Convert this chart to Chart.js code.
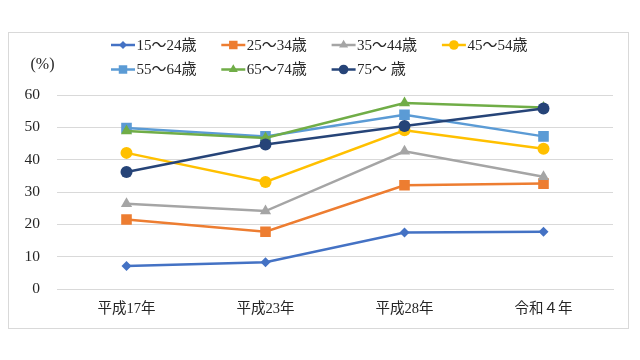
<!DOCTYPE html>
<html>
<head>
  <title>Age group rates</title>
  <script src="https://cdn.jsdelivr.net/npm/chart.js"></script>
  <style>
    body { margin: 0; background: #fff; }
    #wrap { position: relative; width: 640px; height: 360px; }
  </style>
</head>
<body>
<div id="wrap">
  <canvas id="ageChart" width="640" height="360"></canvas>
</div>

<script>
  // values
  const years = ['平成17年', '平成23年', '平成28年', '令和４年'];
  const groupNames = ['15～24歳', '25～34歳', '35～44歳', '45～54歳', '55～64歳', '65～74歳', '75～ 歳'];
  const age15to24 = [7.1, 8.3, 17.5, 17.7];
  const age25to34 = [21.5, 17.7, 32.1, 32.6];
  const age35to44 = [26.4, 24.1, 42.6, 34.7];
  const age45to54 = [42.1, 33.1, 49.1, 43.4];
  const age55to64 = [49.8, 47.2, 53.9, 47.2];
  const age65to74 = [48.9, 46.7, 57.5, 56.1];
  const age75plus = [36.2, 44.7, 50.4, 55.8];
  const yTicks = [0, 10, 20, 30, 40, 50, 60];

  const seriesValues = [age15to24, age25to34, age35to44, age45to54, age55to64, age65to74, age75plus];
  const colors = ['#4472C4', '#ED7D31', '#A5A5A5', '#FFC000', '#5B9BD5', '#70AD47', '#264478'];
  const markers = ['rectRot', 'rect', 'triangle', 'circle', 'rect', 'triangle', 'circle'];
  const radii = [5, 7.5, 6.5, 6, 7.5, 6.5, 6];

  const fontFamily = '"Liberation Serif", "Noto Sans CJK JP", serif';

  // later series sit on top, as in the original
  const datasets = seriesValues.map((vals, i) => ({
    label: groupNames[i],
    data: vals,
    order: seriesValues.length - i,
    borderColor: colors[i],
    backgroundColor: colors[i],
    borderWidth: 2.5,
    pointStyle: markers[i],
    pointRadius: radii[i],
    pointBorderWidth: 0,
    pointBackgroundColor: colors[i],
    tension: 0
  }));

  // frame, (%) label and a two-row legend like the original
  const extras = {
    id: 'extras',
    afterDraw(chart) {
      const ctx = chart.ctx;
      ctx.save();
      ctx.strokeStyle = '#d9d9d9';
      ctx.lineWidth = 1;
      ctx.strokeRect(8.5, 32.5, 620, 296);

      ctx.fillStyle = '#262626';
      ctx.font = '16px ' + fontFamily;
      ctx.textAlign = 'center';
      ctx.textBaseline = 'middle';
      ctx.fillText('(%)', 42.5, 65);

      ctx.font = '15px ' + fontFamily;
      ctx.textAlign = 'left';
      chart.data.datasets.forEach((ds, i) => {
        const x0 = 111 + (i % 4) * 110.3;
        const y = 45 + Math.floor(i / 4) * 24.5;
        ctx.strokeStyle = ds.borderColor;
        ctx.lineWidth = 2.5;
        ctx.beginPath();
        ctx.moveTo(x0, y);
        ctx.lineTo(x0 + 24, y);
        ctx.stroke();
        ctx.fillStyle = ds.borderColor;
        Chart.helpers.drawPoint(ctx, {
          pointStyle: ds.pointStyle,
          radius: ds.pointRadius * 0.8,
          rotation: 0,
          borderWidth: 0
        }, x0 + 12, y);
        ctx.fillStyle = '#262626';
        ctx.fillText(ds.label, x0 + 25.5, y + 1);
      });
      ctx.restore();
    }
  };

  const ctx = document.getElementById('ageChart').getContext('2d');
  new Chart(ctx, {
    type: 'line',
    data: { labels: years, datasets: datasets },
    options: {
      responsive: false,
      animation: false,
      layout: { padding: { top: 95, right: 27, bottom: 0, left: 0 } },
      plugins: {
        legend: { display: false },
        tooltip: { enabled: false }
      },
      scales: {
        x: {
          offset: true,
          grid: { display: false, drawTicks: false },
          border: { color: '#d9d9d9', width: 1 },
          ticks: {
            padding: 11,
            color: '#262626',
            font: { family: fontFamily, size: 14.5 }
          },
          afterFit: s => { s.height = 71; }
        },
        y: {
          min: 0,
          max: 60,
          afterBuildTicks: s => { s.ticks = yTicks.map(v => ({ value: v })); },
          grid: { color: '#d9d9d9', drawTicks: false },
          border: { display: false },
          ticks: {
            padding: 17,
            color: '#262626',
            font: { family: fontFamily, size: 15.5 }
          },
          afterFit: s => { s.width = 57; }
        }
      }
    },
    plugins: [extras]
  });
</script>
</body>
</html>
